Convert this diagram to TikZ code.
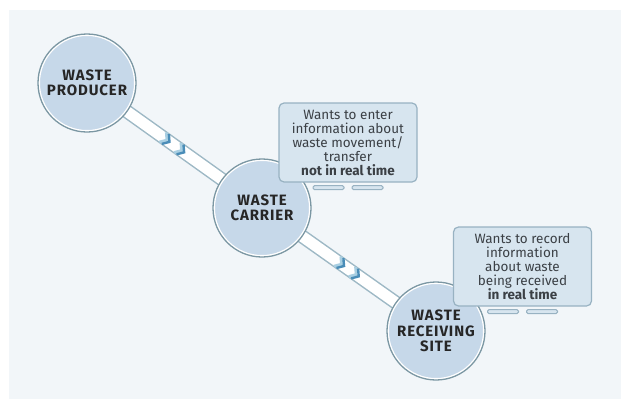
\documentclass[tikz,border=0pt]{standalone}
\usepackage{fontspec}
\setmainfont{Fira Sans}
\usetikzlibrary{decorations.markings}

\definecolor{panel}{HTML}{F2F6F9}
\definecolor{disc}{HTML}{C6D8E9}
\definecolor{discline}{HTML}{7B97A3}
\definecolor{boxfill}{HTML}{D7E5EF}
\definecolor{boxline}{HTML}{98B2C2}
\definecolor{tubeline}{HTML}{9DB8C5}
\definecolor{chevdark}{HTML}{4A8DB8}
\definecolor{chevlight}{HTML}{A9CFE2}
\definecolor{note}{HTML}{3B4045}

\pgfdeclarelayer{back}
\pgfsetlayers{back,main}

\tikzset{
  party/.style={circle, fill=disc, draw=discline, line width=1.3pt,
    minimum size=98pt, inner sep=0pt, outer sep=0pt, align=center,
    text=black!85,
    font=\fontsize{15}{15.5}\selectfont\bfseries\addfontfeatures{LetterSpace=6},
    path picture={\draw[white, line width=4pt]
      (path picture bounding box.center) circle[radius=49pt];}},
  tube/.style={draw=tubeline, line width=1.5pt, double=white,
    double distance=11pt, shorten <=-4pt, shorten >=-4pt},
  chevrons/.style={decorate, decoration={markings,
    mark=at position 0.5 with {
      \foreach \d in {-9,9}{
        \draw[chevlight, line width=3pt] (\d-5,6) -- (\d,0) -- (\d-5,-6);
        \draw[chevdark, line width=2.4pt] (\d-2,6) -- (\d+3,0) -- (\d-2,-6);
      }}}},
  notebox/.style={draw=boxline, fill=boxfill, line width=1.2pt,
    rounded corners=5pt, minimum width=138pt, minimum height=79pt,
    inner sep=0pt, align=center, text=note,
    font=\fontsize{13.5}{14}\selectfont},
  bar/.style={draw=boxline, fill=boxfill, line width=1pt, rounded corners=1.5pt}
}

\begin{document}
\begin{tikzpicture}[x=1pt, y=-1pt]
\useasboundingbox (0,0) rectangle (621,399);

%the three parties
\node[party] (prod) at (87,83) {WASTE\\PRODUCER};
\node[party] (carr) at (262,208) {WASTE\\CARRIER};
\node[party] (site) at (436,331) {WASTE\\RECEIVING\\SITE};

%the notes on screens
\node[notebox] (enter) at (348,142.5) {Wants to enter\\information about\\waste movement/\\transfer\\\textbf{not in real time}};
\node[notebox] (record) at (522.5,266.5) {Wants to record\\information\\about waste\\being received\\\textbf{in real time}};
\foreach \b in {enter,record}{
  \draw[bar] ([xshift=-35pt,yshift=-3pt]\b.south) rectangle ++(31,4);
  \draw[bar] ([xshift=4pt,yshift=-3pt]\b.south) rectangle ++(31,4);
}

%tubes behind the circles
\begin{pgfonlayer}{back}
\fill[panel] (9,10) rectangle (621,399);
\draw[tube] (prod) -- (carr);
\draw[tube] (carr) -- (site);
\end{pgfonlayer}
\path[chevrons] (prod) -- (carr);
\path[chevrons] (carr) -- (site);
\end{tikzpicture}
\end{document}
